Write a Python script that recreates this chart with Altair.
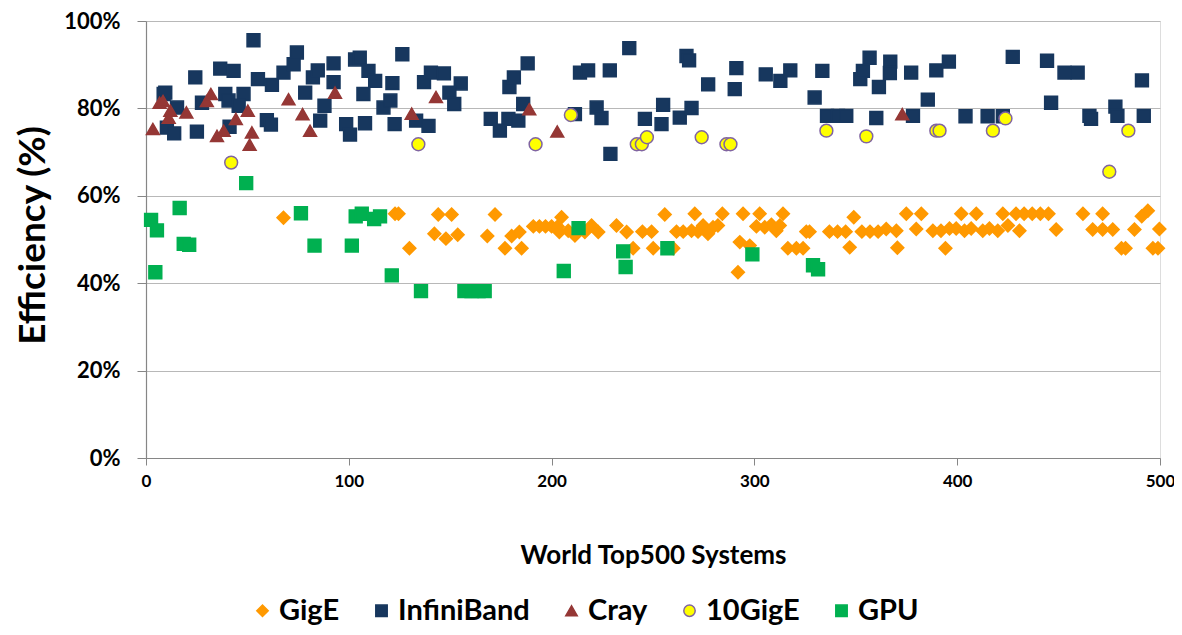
import altair as alt
import pandas as pd

# ---- data ----
series_names = ["GigE", "InfiniBand", "Cray", "10GigE", "GPU"]

gige_x = [67.8, 122.8, 124.5, 129.9, 142.2, 144.1, 147.9, 150.7, 153.7, 168.3, 172.1, 177, 180.3, 184.1, 185.2,
          191, 194, 197, 200, 203, 204.9, 203.8, 208.2, 211.5, 216.4, 219.7, 223, 232, 237, 240.2, 244.8,
          249.3, 255.8, 250.1, 260, 261.6, 264.9, 270.6, 269, 272.2, 274.7, 277.1, 279.6, 282, 284.2,
          291.9, 292.8, 297.7, 294.4, 302.6, 301, 305.1, 308.4, 310.8, 312.5, 314.1, 316.5, 320.7, 324,
          325.6, 327.2, 347, 349, 337, 341, 345, 353, 357, 361, 365, 370, 370.5, 374.9, 382.3, 379.8,
          388, 392, 396.2, 399.5, 403.6, 406.9, 412.6, 415.9, 420, 425, 430.7, 394.2, 402, 409.4, 422.5,
          429, 433, 437, 441, 445, 448.8, 462, 471.7, 466.8, 471.7, 476.7, 481, 483, 487.4, 491, 494,
          496.5, 499, 499.7]
gige_y = [55, 55.9, 55.9, 48, 51.3, 55.7, 50.2, 55.7, 51.1, 50.8, 55.7, 48, 50.8, 51.7, 48,
          53, 53, 53, 53, 53, 55.1, 51.7, 52, 50.9, 51.7, 53.2, 51.7, 53.2, 51.7, 48, 51.8,
          51.8, 55.7, 48, 48, 51.8, 51.8, 55.9, 52, 51.8, 53.2, 51.3, 52.8, 53.2, 55.9,
          42.5, 49.4, 48.6, 55.9, 55.9, 53, 52.8, 53.4, 52, 53.2, 55.9, 48, 48, 48,
          51.8, 51.8, 48.2, 55.1, 51.8, 51.8, 51.8, 51.8, 51.8, 51.8, 52.4, 52, 48.1, 55.9, 55.9, 52.4,
          52, 52, 52.5, 52.5, 52, 52.5, 52, 52.5, 52, 53.2, 52, 48, 55.9, 55.9, 55.9,
          55.9, 55.9, 55.9, 55.9, 55.9, 52.3, 55.9, 55.9, 52.3, 52.3, 52.3, 48, 48, 52.3, 55.3, 56.6,
          48, 48, 52.4]

ib_x = [8.7, 9.5, 15.3, 10.3, 13.9, 24.3, 25.1, 27.6, 36.6, 43.2, 39.1, 40.7, 48.1, 45.7, 41.2, 53.0, 55.2,
        62.1, 59.6, 61.6, 67.8, 74.4, 72.8, 78.5, 82.3, 84.7, 88.0, 85.9, 92.5, 92.5, 98.7, 100.6, 108,
        103.1, 105.4, 109.7, 113, 107.2, 117.1, 120.5, 121.5, 122.6, 126.4, 137.1, 140.5, 146.9, 155.2,
        149.6, 152, 133.2, 139.3, 170, 174.5, 178.7, 183.6, 186, 179.2, 181.4, 188.2, 211.5, 214, 218,
        222.2, 224.6, 228.7, 238.3, 229, 246, 255, 254.2, 263.2, 269, 266.5, 267.8, 277.2, 291.1, 290.3,
        305.6, 312.8, 317.7, 329.7, 333.5, 335.8, 341.2, 345.3, 352.2, 353.5, 356.8, 361.4, 360.1, 367,
        366.8, 377.3, 389.7, 395.9, 385.5, 378.2, 404.1, 415, 422.5, 427.4, 444.3, 452.9, 459.4, 446.3,
        465.2, 466, 478, 479, 491.1, 492]
ib_y = [83.3, 83.6, 80.2, 75.6, 74.3, 87.1, 74.7, 81.3, 89.1, 88.6, 83.3, 81.8, 83.3, 80.6, 75.8, 95.6, 86.7,
        85.4, 77.3, 76.3, 88.2, 92.8, 90.1, 83.6, 87.1, 88.7, 80.6, 77.2, 90.3, 86.0, 76.4, 74.0, 76.6,
        91.2, 91.6, 88.6, 86.3, 83.3, 80.2, 81.8, 85.8, 76.4, 92.4, 86, 88.2, 88, 85.7,
        83.6, 81, 77.2, 76, 77.6, 74.9, 77.6, 77.2, 81, 84.9, 87.1, 90.3, 78.7, 88.2, 88.7,
        80.2, 77.8, 88.7, 93.8, 69.6, 77.6, 80.8, 76.4, 77.9, 80.1, 92, 91, 85.5, 89.2, 84.4,
        87.8, 86.3, 88.7, 82.5, 88.6, 78.3, 78.3, 78.3, 86.7, 88.6, 91.6, 84.9, 77.8, 90.7,
        88.1, 88.2, 88.7, 90.7, 82, 78.3, 78.2, 78.2, 78.2, 91.8, 90.9, 88.2, 88.2, 81.3,
        78.3, 77.6, 80.4, 78.3, 86.4, 78.3]

cray_x = [3.4, 6.7, 8.4, 12, 11.2, 19.9, 30, 32, 35, 38.3, 44.3, 50.2, 52.2, 51.1, 70.3, 77.2, 80.9, 93.2,
          131, 143, 189, 202.8, 372.9]
cray_y = [75.3, 81.3, 81.7, 79.5, 77.9, 79.1, 81.7, 83.3, 73.7, 74.9, 77.6, 79.5, 74.5, 71.7, 82.1, 78.7, 74.9,
          83.6, 78.8, 82.6, 79.8, 74.7, 78.7]

tengige_x = [42, 134.3, 192.1, 209.5, 242, 244.5, 247, 274, 286.2, 288.2, 335.5, 355.2, 389.7, 391.3,
             417.6, 423.8, 475, 484.4]
tengige_y = [67.6, 71.8, 71.8, 78.5, 71.8, 71.8, 73.4, 73.4, 71.8, 71.8, 74.9, 73.6, 74.9, 74.9,
             74.9, 77.7, 65.5, 74.9]

gpu_x = [2.5, 5.4, 4.6, 16.6, 18.6, 21.3, 49.4, 76.4, 83.1, 101.5, 103.4, 106.4, 112.5, 115.4, 121.2,
         135.6, 157, 160.5, 164, 167, 206, 213.3, 235.3, 236.5, 257.1, 299, 328.9, 331.4]
gpu_y = [54.5, 52.1, 42.5, 57.2, 49, 48.8, 62.9, 56, 48.6, 48.6, 55.3, 55.9, 54.7, 55.3, 41.8,
         38.2, 38.2, 38.2, 38.2, 38.2, 42.8, 52.6, 47.3, 43.7, 48, 46.6, 44.1, 43.2]

x_ticks = [0, 100, 200, 300, 400, 500]
y_ticks = [0, 20, 40, 60, 80, 100]

fill_colors = ["#FF9900", "#17375E", "#953735", "#FFFF00", "#00B050"]
stroke_colors = ["#FF9900", "#17375E", "#953735", "#8064A2", "#00B050"]
shapes = ["diamond", "square", "triangle-up", "circle", "square"]

frames = []
for name, xs, ys in [("GigE", gige_x, gige_y), ("InfiniBand", ib_x, ib_y), ("Cray", cray_x, cray_y),
                     ("10GigE", tengige_x, tengige_y), ("GPU", gpu_x, gpu_y)]:
    frames.append(pd.DataFrame({"x": xs, "y": ys, "series": name}))
df = pd.concat(frames, ignore_index=True)

FONT = "Lato"

legend = alt.Legend(
    title=None, orient="none", direction="horizontal", legendX=102, legendY=575,
    labelFont=FONT, labelFontWeight="bold", labelFontSize=29, labelColor="black",
    symbolSize=130, symbolStrokeWidth=1.5, labelOffset=2, columnPadding=27,
)

chart = alt.Chart(df).mark_point(size=165, strokeWidth=1.5, opacity=1, fillOpacity=1).encode(
    x=alt.X("x:Q", scale=alt.Scale(domain=[0, 500], nice=False, zero=False),
            axis=alt.Axis(values=x_ticks, grid=False, title="World Top500 Systems",
                          tickSize=7, tickColor="#868686", domainColor="#868686", domainWidth=1.2,
                          labelFont=FONT, labelFontWeight="bold", labelFontSize=17, labelColor="black",
                          labelPadding=8, labelFlush=False,
                          titleFont=FONT, titleFontWeight="bold", titleFontSize=26, titleColor="black",
                          titleY=97, titleBaseline="middle")),
    y=alt.Y("y:Q", scale=alt.Scale(domain=[0, 100], nice=False),
            axis=alt.Axis(values=y_ticks, labelExpr="datum.value + '%'", grid=True,
                          gridColor="#B8B8B8", gridWidth=1.2,
                          tickSize=9, tickColor="#868686", domainColor="#868686", domainWidth=1.2,
                          labelFont=FONT, labelFontWeight="bold", labelFontSize=22, labelColor="black",
                          labelPadding=17,
                          title="Efficiency (%)", titleFont=FONT, titleFontWeight="bold",
                          titleFontSize=37, titleColor="black", titleX=-113, titleY=214,
                          titleAngle=270, titleAlign="center", titleBaseline="middle")),
    fill=alt.Fill("series:N", scale=alt.Scale(domain=series_names, range=fill_colors), legend=legend),
    stroke=alt.Stroke("series:N", scale=alt.Scale(domain=series_names, range=stroke_colors), legend=legend),
    shape=alt.Shape("series:N", scale=alt.Scale(domain=series_names, range=shapes), legend=legend),
).properties(
    width=1014, height=437,
    padding={"left": 138, "top": 13, "right": 14, "bottom": 169},
    autosize=alt.AutoSizeParams(type="none"),
).configure_view(strokeWidth=0).configure(background="white")

chart.save("out.html", embed_options={"renderer": "svg", "actions": False})
